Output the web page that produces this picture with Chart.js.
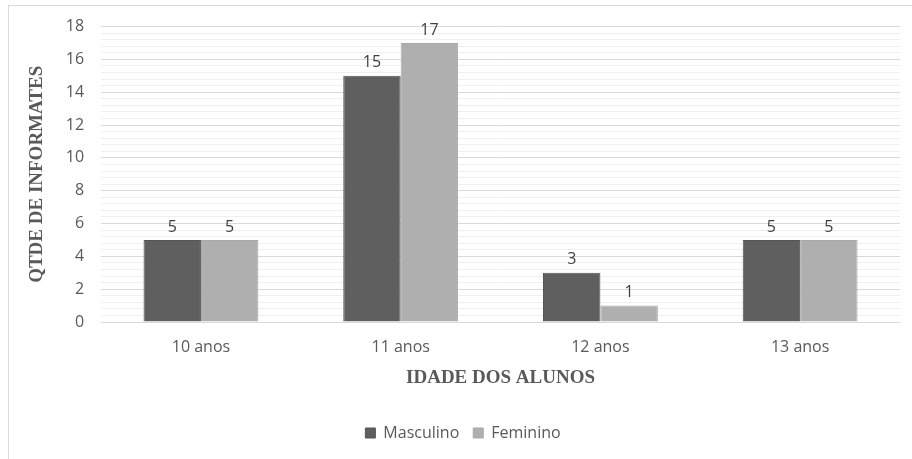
<!DOCTYPE html>
<html>
<head>
<meta charset="utf-8">
<script src="https://cdn.jsdelivr.net/npm/chart.js@4"></script>
<style>
  html, body { margin: 0; padding: 0; background: #fff; }
  #wrap { position: relative; width: 912px; height: 459px; }
</style>
</head>
<body>
<div id="wrap"><canvas id="chart" width="912" height="459"></canvas></div>
<script>
// data
const categories = ['10 anos', '11 anos', '12 anos', '13 anos'];
const masculino = [5, 15, 3, 5];
const feminino = [5, 17, 1, 5];
const seriesNames = ['Masculino', 'Feminino'];
const yMax = 18;
const yMinorStep = 0.4;
const yMajorStep = 2;

const isMajor = (v) => Math.abs(v / yMajorStep - Math.round(v / yMajorStep)) < 1e-6;

// outer frame like the original chart area border
const framePlugin = {
    id: 'frame',
    beforeDraw(chart) {
        const ctx = chart.ctx;
        ctx.save();
        ctx.strokeStyle = '#d9d9d9';
        ctx.lineWidth = 1;
        ctx.strokeRect(8.5, 5.5, 920, 470);
        ctx.restore();
    }
};

// value labels above each bar
const valueLabels = {
    id: 'valueLabels',
    afterDatasetsDraw(chart) {
        const ctx = chart.ctx;
        ctx.save();
        ctx.font = '16px "Open Sans"';
        ctx.fillStyle = '#404040';
        ctx.textAlign = 'center';
        ctx.textBaseline = 'bottom';
        chart.data.datasets.forEach((ds, i) => {
            chart.getDatasetMeta(i).data.forEach((bar, j) => {
                ctx.fillText(ds.data[j], bar.x, bar.y - 5);
            });
        });
        ctx.restore();
    }
};

new Chart(document.getElementById('chart'), {
    type: 'bar',
    data: {
        labels: categories,
        datasets: [
            { label: seriesNames[0], data: masculino, backgroundColor: '#5f5f5f', borderColor: '#555', borderWidth: 1 },
            { label: seriesNames[1], data: feminino, backgroundColor: '#afafaf', borderColor: '#a8a8a8', borderWidth: 1 }
        ]
    },
    options: {
        responsive: false,
        animation: false,
        layout: { padding: { left: 26, right: 12, top: 22, bottom: 8 } },
        datasets: { bar: { categoryPercentage: 0.575, barPercentage: 1 } },
        plugins: {
            tooltip: { enabled: false },
            legend: {
                position: 'bottom',
                labels: {
                    boxWidth: 10, boxHeight: 10, padding: 14,
                    color: '#595959',
                    font: { family: '"Open Sans"', size: 16 }
                }
            }
        },
        scales: {
            x: {
                grid: { display: false },
                border: { display: true, color: '#d9d9d9' },
                ticks: { color: '#595959', font: { family: '"Open Sans"', size: 16 }, padding: 8 },
                title: {
                    display: true, text: 'IDADE DOS ALUNOS', color: '#595959',
                    font: { family: '"Liberation Serif"', size: 19, weight: 'bold' },
                    padding: { top: 1, bottom: 22 }
                }
            },
            y: {
                min: 0, max: yMax,
                border: { display: false },
                grid: {
                    drawTicks: false,
                    color: (c) => isMajor(c.tick.value) ? '#d9d9d9' : '#efefef'
                },
                ticks: {
                    stepSize: yMinorStep,
                    autoSkip: false,
                    padding: 17,
                    color: '#595959',
                    font: { family: '"Open Sans"', size: 16 },
                    callback: (v) => isMajor(v) ? Math.round(v) : ''
                },
                title: {
                    display: true, text: 'QTDE DE INFORMATES', color: '#595959',
                    font: { family: '"Liberation Serif"', size: 19, weight: 'bold' },
                    padding: { top: 0, bottom: 0 }
                }
            }
        }
    },
    plugins: [framePlugin, valueLabels]
});
</script>
</body>
</html>
